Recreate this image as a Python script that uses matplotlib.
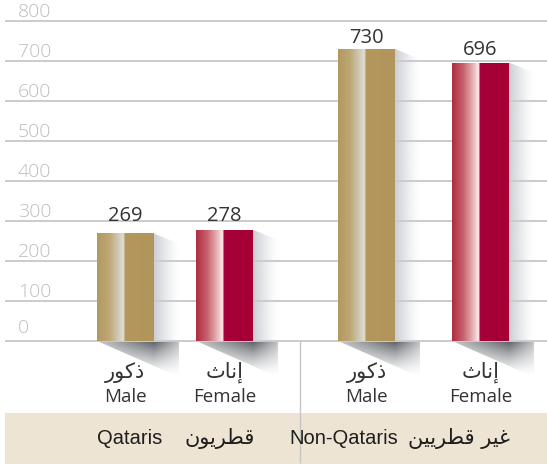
import matplotlib
matplotlib.use('Agg')
import matplotlib.pyplot as plt
import numpy as np
from matplotlib.patches import Polygon, Rectangle
import matplotlib.colors as mcolors

# data
values = [269, 278, 730, 696]
labels_en = ['Male', 'Female', 'Male', 'Female']
# Arabic words written in presentation forms, visual order (matplotlib does no shaping)
labels_ar = ['\uFEAD\uFEEE\uFEDB\uFEAB',          # ذكور
             '\uFE99\uFE8E\uFEE7\uFE87',          # إناث
             '\uFEAD\uFEEE\uFEDB\uFEAB',
             '\uFE99\uFE8E\uFEE7\uFE87']
groups_en = ['Qataris', 'Non-Qataris']
groups_ar = ['\uFEE5\uFEEE\uFEF3\uFEAE\uFEC4\uFED7',                          # قطريون
             '\uFEE6\uFEF4\uFEF3\uFEAE\uFEC4\uFED7 \uFEAE\uFEF4\uFECF']       # غير قطريين
yticks = [0, 100, 200, 300, 400, 500, 600, 700, 800]

# layout (x in pixels, 1 y unit = 0.4 px)
xpos = [125, 224.5, 366.5, 480.5]
bar_w = 57
kinds = ['gold', 'red', 'gold', 'red']
label_gap = [12, 9, 6.5, 7.5]  # px between bar top and value label
PX = 2.5  # y units per pixel

plt.rcParams['font.family'] = ['Open Sans', 'DejaVu Sans']

fig = plt.figure(figsize=(5.47, 4.65), dpi=100)
ax = fig.add_axes([0, 0, 1, 1])
ax.axis('off')


def ramp(stops, n=240):
    pos = [s[0] for s in stops]
    cols = np.array([mcolors.to_rgb(s[1]) for s in stops])
    x = np.linspace(0, 1, n)
    row = np.stack([np.interp(x, pos, cols[:, i]) for i in range(3)], axis=-1)
    return np.repeat(row[None, :, :], 2, axis=0)


gold_stops = [(0, '#b39860'), (0.22, '#bda878'), (0.40, '#d4cfc0'),
              (0.46, '#e0dcd2'), (0.475, '#d8d2c2'), (0.49, '#b3975c'), (1, '#b1955a')]
red_stops = [(0, '#b02c40'), (0.2, '#c7636e'), (0.38, '#e8b9bb'),
             (0.46, '#fbe9e9'), (0.475, '#f3d6d6'), (0.49, '#a6003a'), (1, '#a50034')]
grads = {'gold': ramp(gold_stops), 'red': ramp(red_stops)}

bars = ax.bar(xpos, values, width=bar_w, color='none', edgecolor='none', zorder=5)

sh_w = 25
sh_d = 36 * PX
for b, v, k, gap in zip(bars, values, kinds, label_gap):
    xl = b.get_x()
    xr = xl + b.get_width()
    top = b.get_height()
    # right-side soft shadow
    n = 60
    a = np.linspace(0.95, 0.0, n) ** 1.3
    img = np.zeros((2, n, 4))
    img[..., :3] = mcolors.to_rgb('#c9cbd0')
    img[..., 3] = a[None, :]
    im = ax.imshow(img, extent=[xr, xr + sh_w, 0, top], origin='lower',
                   aspect='auto', interpolation='bilinear', zorder=2)
    clip = Polygon([(xr, 0), (xr, top), (xr + sh_w, top - 10 * PX), (xr + sh_w, 0)],
                   closed=True, transform=ax.transData)
    im.set_clip_path(clip)
    # floor shadow below the bar
    nx, ny = 120, 60
    xs = np.linspace(xl, xr + sh_w, nx)
    ys = np.linspace(-sh_d, 0, ny)
    X, Y = np.meshgrid(xs, ys)
    depth = -Y / sh_d
    hf = np.where(X <= xr, 0.35 + 0.65 * (X - xl) / (xr - xl),
                  1 - 0.6 * (X - xr) / sh_w)
    img2 = np.zeros((ny, nx, 4))
    img2[..., :3] = mcolors.to_rgb('#474c53')
    img2[..., 3] = 0.9 * np.clip(1 - depth, 0, 1) ** 1.4 * hf
    im2 = ax.imshow(img2, extent=[xl, xr + sh_w, -sh_d, 0], origin='lower',
                    aspect='auto', interpolation='bilinear', zorder=2)
    clip2 = Polygon([(xl, 0), (xr + sh_w, 0), (xr + sh_w, -sh_d)],
                    closed=True, transform=ax.transData)
    im2.set_clip_path(clip2)
    # bar face gradient
    im3 = ax.imshow(grads[k], extent=[xl, xr, 0, top], origin='lower',
                    aspect='auto', interpolation='bilinear', zorder=5)
    im3.set_clip_path(b)
    ax.text(b.get_x() + b.get_width() / 2, top + gap * PX, str(v), ha='center',
            va='baseline', fontsize=14.5, color='#333333', zorder=6)

# gridlines and y labels
ax.hlines(yticks, 5, 547, colors='#cbcbcb', linewidth=1.4, zorder=3)
for t in yticks:
    off = 8 if t == 0 else 4
    ax.text(18, t + off * PX, str(t), ha='left', va='baseline',
            fontsize=14, color='#bdbdbd', fontweight='light', zorder=6)

# bottom band and divider
ax.add_patch(Rectangle((5, -307.5), 542, 127.5, facecolor='#ede4d3',
                       edgecolor='none', zorder=1))
ax.vlines(300, -305, 0, colors='#c6c6c6', linewidth=1.0, zorder=4)

# category labels
for x, en, ar in zip(xpos, labels_en, labels_ar):
    ax.text(x, -77.5, ar, ha='center', va='center', fontsize=15,
            color='#333333', zorder=6)
    ax.text(x, -140, en, ha='center', va='center', fontsize=13.5,
            color='#333333', zorder=6)

# group labels
gx_en = [162, 398]
gx_ar = [185, 408]
for xe, xa, en, ar in zip(gx_en, gx_ar, groups_en, groups_ar):
    ax.text(xe, -242.5, en, ha='right', va='center', fontsize=14.5,
            color='#1e1e1e', family=['Liberation Sans', 'DejaVu Sans'], zorder=6)
    ax.text(xa, -242.5, ar, ha='left', va='center', fontsize=15,
            color='#1e1e1e', family=['DejaVu Sans'], zorder=6)

ax.set_xlim(0, 547)
ax.set_ylim(-310, 852.5)

fig.savefig('out.png', dpi=100)
